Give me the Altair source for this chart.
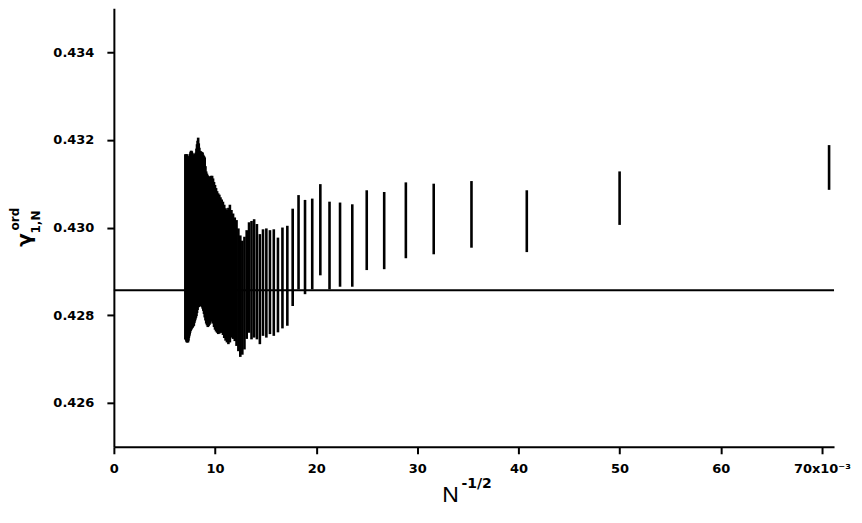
import altair as alt
import pandas as pd

# N values (bars are drawn at x = N^-1/2)
N_VALUES = list(range(200, 20001, 200))

# upper end of each vertical bar (gamma_ord_1,N), N ascending
GAMMA_HIGH = [
    0.43188, 0.43128, 0.43085, 0.43106, 0.43100, 0.43103, 0.43081, 0.43085, 0.43053, 0.43057,
    0.43059, 0.43099, 0.43066, 0.43063, 0.43074, 0.43043, 0.43004, 0.43000, 0.42977, 0.42996,
    0.42994, 0.42998, 0.42996, 0.42985, 0.43008, 0.43019, 0.43015, 0.43012, 0.42994, 0.42979,
    0.42970, 0.42982, 0.42998, 0.43017, 0.43023, 0.43032, 0.43040, 0.43052, 0.43045, 0.43040,
    0.43044, 0.43052, 0.43059, 0.43064, 0.43069, 0.43075, 0.43078, 0.43083, 0.43090, 0.43097,
    0.43104, 0.43112, 0.43118, 0.43118, 0.43116, 0.43115, 0.43117, 0.43119, 0.43123, 0.43128,
    0.43140, 0.43160, 0.43163, 0.43166, 0.43171, 0.43172, 0.43173, 0.43174, 0.43175, 0.43182,
    0.43192, 0.43205, 0.43198, 0.43190, 0.43180, 0.43171, 0.43169, 0.43167, 0.43165, 0.43163,
    0.43165, 0.43167, 0.43170, 0.43173, 0.43175, 0.43175, 0.43172, 0.43168, 0.43160, 0.43152,
    0.43149, 0.43150, 0.43155, 0.43163, 0.43167, 0.43160, 0.43167, 0.43165, 0.43167, 0.43167,
]

# lower end of each vertical bar, N ascending
GAMMA_LOW = [
    0.43086, 0.43006, 0.42944, 0.42954, 0.42939, 0.42930, 0.42905, 0.42903, 0.42865, 0.42865,
    0.42859, 0.42891, 0.42859, 0.42848, 0.42859, 0.42821, 0.42776, 0.42770, 0.42761, 0.42753,
    0.42757, 0.42749, 0.42753, 0.42734, 0.42745, 0.42749, 0.42745, 0.42760, 0.42746, 0.42722,
    0.42710, 0.42705, 0.42718, 0.42730, 0.42741, 0.42746, 0.42749, 0.42738, 0.42734, 0.42738,
    0.42742, 0.42748, 0.42755, 0.42760, 0.42760, 0.42758, 0.42757, 0.42760, 0.42763, 0.42767,
    0.42773, 0.42781, 0.42786, 0.42786, 0.42781, 0.42778, 0.42775, 0.42773, 0.42777, 0.42781,
    0.42788, 0.42795, 0.42803, 0.42810, 0.42815, 0.42819, 0.42821, 0.42821, 0.42821, 0.42820,
    0.42819, 0.42818, 0.42812, 0.42805, 0.42798, 0.42794, 0.42790, 0.42786, 0.42782, 0.42776,
    0.42775, 0.42773, 0.42771, 0.42770, 0.42768, 0.42766, 0.42764, 0.42760, 0.42756, 0.42752,
    0.42748, 0.42742, 0.42738, 0.42740, 0.42738, 0.42738, 0.42740, 0.42743, 0.42745, 0.42745,
]

GAMMA_LIMIT = [0.428571]          # horizontal reference line
X_DOMAIN = [0.0, 0.0712]
Y_DOMAIN = [0.425, 0.435]
X_TICKS = [0.0, 0.01, 0.02, 0.03, 0.04, 0.05, 0.06, 0.07]
Y_TICKS = [0.426, 0.428, 0.430, 0.432, 0.434]

FONT = "DejaVu Sans"
TITLE_FONT = "Liberation Sans"

bars_df = pd.DataFrame({"N": N_VALUES, "high": GAMMA_HIGH, "low": GAMMA_LOW})
limit_df = pd.DataFrame({"y": GAMMA_LIMIT, "x0": [X_DOMAIN[0]], "x1": [X_DOMAIN[1]]})

common_axis = dict(
    grid=False, title=None, domainColor="black", domainWidth=2,
    tickColor="black", tickWidth=2, tickSize=7,
    labelFont=FONT, labelFontSize=13, labelFontWeight="bold", labelColor="black",
    labelFlush=False, labelOverlap=False, labelBound=False,
)

x_axis = alt.Axis(
    values=X_TICKS,
    labelExpr="datum.value > 0.0695 ? '70x10⁻³' : format(round(datum.value * 1000), 'd')",
    labelPadding=9,
    **common_axis,
)
y_axis = alt.Axis(values=Y_TICKS, format=".3f", labelPadding=13, **common_axis)

x_scale = alt.Scale(domain=X_DOMAIN, nice=False, zero=False)
y_scale = alt.Scale(domain=Y_DOMAIN, nice=False, zero=False)

bars = (
    alt.Chart(bars_df)
    .transform_calculate(xpos="1 / sqrt(datum.N)")
    .mark_rule(color="black", strokeWidth=2.6)
    .encode(
        x=alt.X("xpos:Q", scale=x_scale, axis=x_axis),
        y=alt.Y("low:Q", scale=y_scale, axis=y_axis),
        y2="high:Q",
    )
)

limit = (
    alt.Chart(limit_df)
    .mark_rule(color="black", strokeWidth=2)
    .encode(x="x0:Q", x2="x1:Q", y="y:Q")
)


def text_mark(text, x, y, size, angle=0, align="center", baseline="middle",
              font=FONT, weight="bold"):
    return (
        alt.Chart(pd.DataFrame({"t": [text]}))
        .mark_text(font=font, fontSize=size, fontWeight=weight, angle=angle,
                   align=align, baseline=baseline, color="black")
        .encode(x=alt.value(x), y=alt.value(y), text="t:N")
    )


titles = [
    # y-axis title: gamma^{ord}_{1,N}, rotated
    text_mark("γ", -89, 232, 20, angle=270),
    text_mark("ord", -99, 211, 12, angle=270),
    text_mark("1,N", -78, 214, 12, angle=270),
    # x-axis title: N^{-1/2}
    text_mark("N", 337, 494, 23, baseline="alphabetic", font=TITLE_FONT, weight="normal"),
    text_mark("-1/2", 348, 480, 14, align="left", baseline="alphabetic"),
]

chart = (
    alt.layer(bars, limit, *titles)
    .properties(
        width=721,
        height=439,
        padding={"left": 106, "top": 0, "right": 20, "bottom": 64},
        autosize=alt.AutoSizeParams(type="none"),
        background="white",
    )
    .configure_view(stroke=None)
)

chart.save("out.html", embed_options={"renderer": "svg", "actions": False})
